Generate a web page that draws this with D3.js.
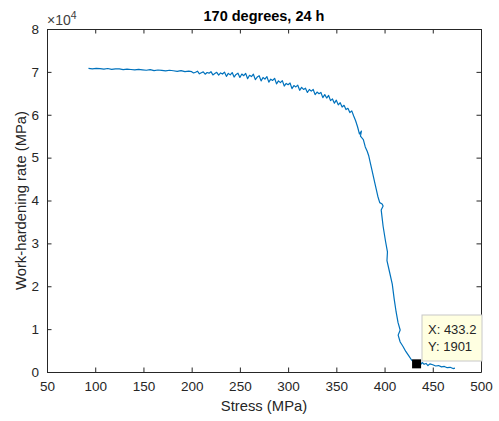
<!DOCTYPE html>
<html>
<head>
<meta charset="utf-8">
<script src="https://cdn.jsdelivr.net/npm/d3@7"></script>
<style>
  body { margin: 0; background: #fff; }
  text { font-family: "Liberation Sans", Arial, sans-serif; fill: #262626; }
</style>
</head>
<body>
<svg id="chart" width="499" height="421"></svg>
<script>
// stress (MPa) and work-hardening rate (MPa)
var stress = [93,97,101,105,109,113,117,121,125,129,133,137,141,145,149,153,157,161,165,169,173,177,181,185,189,193,197,
  200,202,204,206,208,210,212,214,216,218,220,222,224,226,228,230,232,234,236,238,240,242,244,246,248,250,252,254,256,258,
  260,262,264,266,268,270,272,274,276,278,280,282,284,286,288,290,292,294,296,298,300,302,304,306,308,310,312,314,316,318,
  320,322,324,326,328,330,332,334,336,338,340,342,344,346,348,350,352,354,356,358,360,362,364,366,368,370,
  372,374,376,375,378,380,382,383.5,385,387,390,393,395,397.5,398.5,396.5,398.5,401,403,402.5,405,408,410,412,414,416.2,414.1,416.2,419,422,425,428,431,433.2,
  435,437,439,441,443,445,447,450,453,456,459,462,465,468,471,473];
var rate = [70800,70700,70820,70750,70650,70780,70600,70720,70680,70520,70640,70560,70450,70600,70480,70380,70520,70300,70440,70350,70220,70380,70260,70120,70300,70050,70180,
  70050,69750,69900,70150,69550,69800,70000,69450,69850,69700,70050,69300,69600,69900,69250,69750,69500,69950,68950,69650,69300,69850,68800,69400,69700,68700,69500,69100,69650,68400,
  69200,68900,69450,68200,68800,69100,67900,68700,68300,68900,67600,68300,68000,68500,67200,67900,67500,67950,66700,67300,67000,67400,66100,66800,66500,66900,65700,66400,65900,66200,
  65200,65900,65500,65900,64700,65300,64900,65200,64000,64700,63900,64500,63300,63700,62700,63400,62300,62800,61800,62200,61200,61500,60500,60900,59700,58600,
  57200,55500,56200,55000,54200,52500,51500,50500,49000,47000,44000,41000,39500,39200,38700,37800,34000,30500,28000,26000,23500,20500,17000,14000,11500,9800,8600,7000,6000,4800,3800,2800,2200,1901,
  2100,1600,2200,1800,2000,1500,1900,1700,1400,1500,1200,1300,1000,1100,800,900];
var xTicks = [50,100,150,200,250,300,350,400,450,500];
var yTicks = [0,1,2,3,4,5,6,7,8];  // x 10^4
var tipX = 433.2, tipY = 1901;

var svg = d3.select("#chart");
var plotLeft = 47, plotRight = 481, plotTop = 29, plotBottom = 372;
var axisColor = "#262626";

var x = d3.scaleLinear().domain([50, 500]).range([plotLeft, plotRight]);
var y = d3.scaleLinear().domain([0, 80000]).range([plotBottom, plotTop]);

// axes with inward ticks, box on
var tickLen = 4.5;
var yTickVals = yTicks.map(function(d) { return d * 1e4; });
var gx = svg.append("g").attr("transform", "translate(0," + plotBottom + ")")
  .call(d3.axisBottom(x).tickValues(xTicks).tickSizeInner(-tickLen).tickSizeOuter(0).tickPadding(9));
var gxt = svg.append("g").attr("transform", "translate(0," + plotTop + ")")
  .call(d3.axisTop(x).tickValues(xTicks).tickSizeInner(-tickLen).tickSizeOuter(0).tickFormat(""));
var gy = svg.append("g").attr("transform", "translate(" + plotLeft + ",0)")
  .call(d3.axisLeft(y).tickValues(yTickVals)
    .tickSizeInner(-tickLen).tickSizeOuter(0).tickPadding(8)
    .tickFormat(function(d) { return d / 1e4; }));
var gyr = svg.append("g").attr("transform", "translate(" + plotRight + ",0)")
  .call(d3.axisRight(y).tickValues(yTickVals)
    .tickSizeInner(-tickLen).tickSizeOuter(0).tickFormat(""));

[gx, gxt, gy, gyr].forEach(function(g) {
  g.select(".domain").attr("stroke", axisColor).attr("stroke-width", 1);
  g.selectAll(".tick line").attr("stroke", axisColor);
  g.selectAll(".tick text").attr("fill", "#404040").style("font-size", "13.5px")
    .style("font-family", "'Liberation Sans', Arial, sans-serif");
});

// the curve
var pts = stress.map(function(s, i) { return [s, rate[i]]; });
svg.append("path")
  .datum(pts)
  .attr("fill", "none")
  .attr("stroke", "#0072BD")
  .attr("stroke-width", 1.2)
  .attr("stroke-linejoin", "round")
  .attr("d", d3.line().x(function(d) { return x(d[0]); }).y(function(d) { return y(d[1]); }));

// exponent label
var ex = svg.append("text").attr("x", plotLeft).attr("y", 25).style("font-size", "14px").style("fill", "#404040");
ex.append("tspan").text("\u00d710");
ex.append("tspan").attr("dy", -6).style("font-size", "10.5px").text("4");

// title and axis labels
svg.append("text").attr("x", 264).attr("y", 21).attr("text-anchor", "middle")
  .style("font-size", "14.5px").style("font-weight", "bold").style("fill", "#000")
  .text("170 degrees, 24 h");
svg.append("text").attr("x", 264).attr("y", 411).attr("text-anchor", "middle")
  .style("font-size", "14.8px").text("Stress (MPa)");
svg.append("text").attr("transform", "translate(26," + ((plotTop + plotBottom) / 2) + ") rotate(-90)")
  .attr("text-anchor", "middle").style("font-size", "14.8px").text("Work-hardening rate (MPa)");

// data tip
svg.append("rect").attr("x", x(tipX) - 4.5).attr("y", y(tipY) - 4.5)
  .attr("width", 9).attr("height", 9).attr("fill", "#000");
var tip = svg.append("g").attr("transform", "translate(422,315)");
tip.append("rect").attr("width", 60).attr("height", 46)
  .attr("fill", "#ffffe1").attr("stroke", "#c8c8c8").attr("stroke-width", 1);
tip.append("text").attr("x", 6).attr("y", 19).style("font-size", "13px").style("fill", "#262626")
  .text("X: " + tipX);
tip.append("text").attr("x", 6).attr("y", 36).style("font-size", "13px").style("fill", "#262626")
  .text("Y: " + tipY);
</script>
</body>
</html>
